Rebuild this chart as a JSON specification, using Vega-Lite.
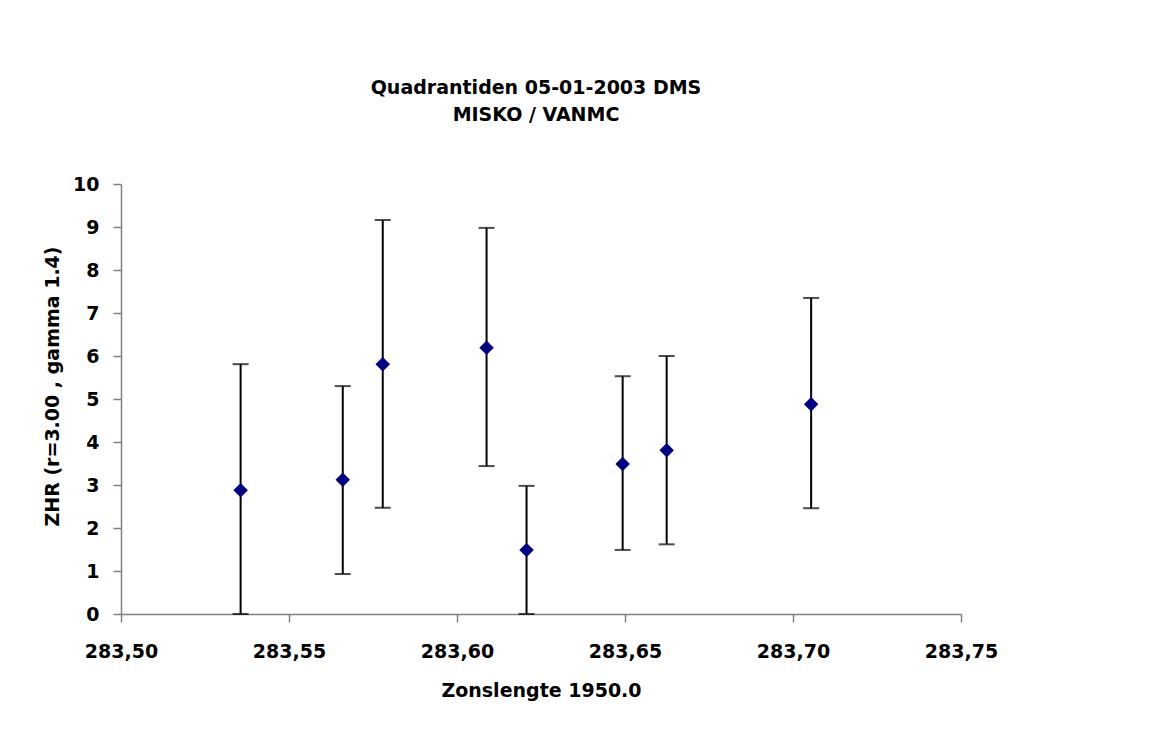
{
  "$schema": "https://vega.github.io/schema/vega-lite/v6.json",
  "width": 840,
  "height": 430,
  "autosize": {"type": "none"},
  "padding": {"left": 121, "top": 184, "right": 199, "bottom": 115},
  "background": "white",
  "config": {
    "view": {"stroke": null},
    "font": "DejaVu Sans",
    "axis": {
      "grid": false,
      "domainColor": "#808080",
      "domainWidth": 1.5,
      "tickColor": "#808080",
      "tickWidth": 1.5,
      "tickSize": 8,
      "labelFlush": false,
      "labelOverlap": false,
      "labelFont": "DejaVu Sans",
      "labelFontWeight": "bold",
      "labelFontSize": 19,
      "labelColor": "black",
      "titleFont": "DejaVu Sans",
      "titleFontWeight": "bold",
      "titleFontSize": 19,
      "titleColor": "black"
    }
  },
  "title": {
    "text": ["Quadrantiden 05-01-2003 DMS", "MISKO / VANMC"],
    "font": "DejaVu Sans",
    "fontSize": 19,
    "fontWeight": "bold",
    "color": "black",
    "lineHeight": 27,
    "anchor": "middle",
    "dx": -5,
    "offset": 50
  },
  "data": {
    "values": [
      {"lambda": 283.5356, "zhr": 2.88, "low": 0.0, "high": 5.81},
      {"lambda": 283.5660, "zhr": 3.12, "low": 0.93, "high": 5.30},
      {"lambda": 283.5779, "zhr": 5.81, "low": 2.47, "high": 9.16},
      {"lambda": 283.6088, "zhr": 6.19, "low": 3.44, "high": 8.98},
      {"lambda": 283.6207, "zhr": 1.49, "low": 0.0, "high": 2.98},
      {"lambda": 283.6493, "zhr": 3.49, "low": 1.49, "high": 5.53},
      {"lambda": 283.6624, "zhr": 3.81, "low": 1.62, "high": 6.0},
      {"lambda": 283.7054, "zhr": 4.88, "low": 2.46, "high": 7.35}
    ]
  },
  "encoding": {
    "x": {
      "field": "lambda",
      "type": "quantitative",
      "scale": {"domain": [283.5, 283.75], "zero": false, "nice": false},
      "axis": {
        "title": "Zonslengte 1950.0",
        "values": [283.5, 283.55, 283.6, 283.65, 283.7, 283.75],
        "labelExpr": "replace(format(datum.value, '.2f'), '.', ',')",
        "labelPadding": 20,
        "titlePadding": 20
      }
    }
  },
  "layer": [
    {
      "mark": {
        "type": "errorbar",
        "ticks": {"size": 16, "thickness": 2, "color": "black"},
        "rule": {"strokeWidth": 2, "color": "black"}
      },
      "encoding": {
        "y": {
          "field": "low",
          "type": "quantitative",
          "scale": {"domain": [0, 10], "nice": false},
          "axis": {
            "title": "ZHR (r=3.00 , gamma 1.4)",
            "values": [0, 1, 2, 3, 4, 5, 6, 7, 8, 9, 10],
            "labelPadding": 14,
            "titlePadding": 10,
            "titleY": 202
          }
        },
        "y2": {"field": "high"}
      }
    },
    {
      "mark": {"type": "point", "shape": "diamond", "filled": true, "size": 210, "color": "#000080", "opacity": 1},
      "encoding": {
        "y": {"field": "zhr", "type": "quantitative"}
      }
    }
  ]
}
